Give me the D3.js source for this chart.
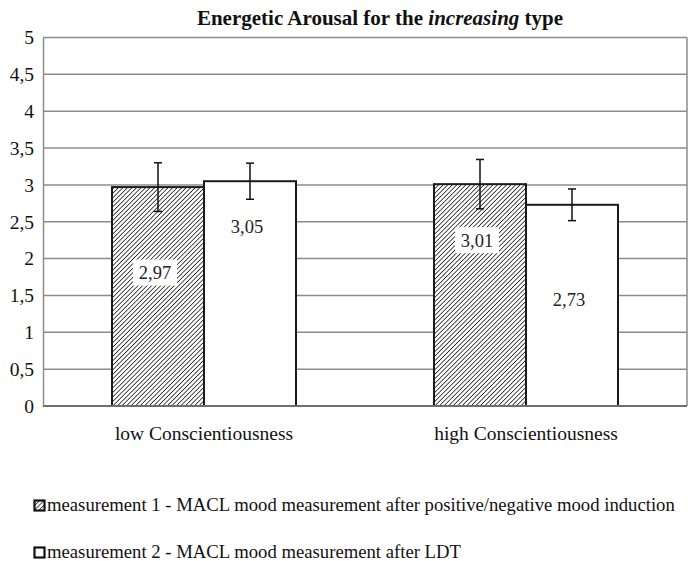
<!DOCTYPE html>
<html>
<head>
<meta charset="utf-8">
<script src="https://cdn.jsdelivr.net/npm/d3@7"></script>
<style>
  body { margin: 0; background: #fff; }
  svg text { font-family: "Liberation Serif", "Times New Roman", Times, Tinos, "DejaVu Serif", serif; }
</style>
</head>
<body>
<svg id="chart"></svg>
<script>
const w = 688;
const h = 561;

// data
const categories = ["low Conscientiousness", "high Conscientiousness"];
const series = ["m1", "m2"];
const seriesNames = [
  "measurement 1 - MACL mood measurement after positive/negative mood induction",
  "measurement 2 - MACL mood measurement after LDT"
];
const m1Values = [2.97, 3.01];
const m2Values = [3.05, 2.73];
const m1Errors = [0.33, 0.335];
const m2Errors = [0.245, 0.215];
const yTicks = [0, 0.5, 1, 1.5, 2, 2.5, 3, 3.5, 4, 4.5, 5];
// where excel put the value labels (in axis units)
const m1LabelAt = [1.81, 2.25];
const m2LabelAt = [2.43, 1.44];

const rows = categories.map((c, i) => ({
  cat: c,
  bars: [
    { key: "m1", value: m1Values[i], err: m1Errors[i], labelAt: m1LabelAt[i] },
    { key: "m2", value: m2Values[i], err: m2Errors[i], labelAt: m2LabelAt[i] }
  ]
}));

const plotL = 43, plotR = 687, plotT = 37.5, plotB = 406;

const svg = d3.select("#chart").attr("width", w).attr("height", h);

// hatch pattern
const defs = svg.append("defs");
const pat = defs.append("pattern")
  .attr("id", "hatch")
  .attr("patternUnits", "userSpaceOnUse")
  .attr("width", 3.2).attr("height", 3.2)
  .attr("patternTransform", "rotate(45)");
pat.append("rect").attr("width", 3.2).attr("height", 3.2).attr("fill", "#fff");
pat.append("line")
  .attr("x1", 0).attr("y1", 0).attr("x2", 0).attr("y2", 3.2)
  .attr("stroke", "#222").attr("stroke-width", 1.6);

const x0 = d3.scaleBand().domain(categories).range([plotL, plotR]);
const x1 = d3.scaleBand().domain(series).range([0, x0.bandwidth()]).paddingOuter(0.75);
const y = d3.scaleLinear().domain([0, 5]).range([plotB, plotT]);

// gridlines
svg.append("g")
  .selectAll("line")
  .data(yTicks.filter(t => t > 0))
  .enter()
  .append("line")
  .attr("x1", plotL).attr("x2", plotR)
  .attr("y1", d => y(d)).attr("y2", d => y(d))
  .attr("stroke", "#8c8c8c").attr("stroke-width", 1.5);

// right border of plot
svg.append("line")
  .attr("x1", plotR).attr("x2", plotR).attr("y1", plotT).attr("y2", plotB)
  .attr("stroke", "#8c8c8c").attr("stroke-width", 1.5);

// y axis
const yAxis = d3.axisLeft(y)
  .tickValues(yTicks)
  .tickSize(0)
  .tickPadding(9)
  .tickFormat(d => String(d).replace(".", ","));
const gy = svg.append("g")
  .attr("transform", `translate(${plotL},0)`)
  .call(yAxis)
  .attr("font-family", null);
gy.select(".domain").attr("stroke", "#8c8c8c").attr("stroke-width", 1.5);
gy.selectAll("text")
  .attr("font-size", 19.5)
  .attr("fill", "#111");

// bars
const groups = svg.append("g")
  .selectAll("g")
  .data(rows)
  .enter()
  .append("g")
  .attr("transform", d => `translate(${x0(d.cat)},0)`);

groups.selectAll("rect")
  .data(d => d.bars)
  .enter()
  .append("rect")
  .attr("x", d => x1(d.key))
  .attr("y", d => y(d.value))
  .attr("width", x1.bandwidth())
  .attr("height", d => y(0) - y(d.value))
  .attr("fill", d => d.key === "m1" ? "url(#hatch)" : "#fff")
  .attr("stroke", "#1a1a1a")
  .attr("stroke-width", 2);

// error bars
const eb = groups.selectAll("g.err")
  .data(d => d.bars)
  .enter()
  .append("g")
  .attr("class", "err")
  .attr("transform", d => `translate(${x1(d.key) + x1.bandwidth() / 2},0)`);
eb.append("line")
  .attr("x1", 0).attr("x2", 0)
  .attr("y1", d => y(d.value + d.err)).attr("y2", d => y(d.value - d.err))
  .attr("stroke", "#111").attr("stroke-width", 1.5);
eb.append("line")
  .attr("x1", -4).attr("x2", 4)
  .attr("y1", d => y(d.value + d.err)).attr("y2", d => y(d.value + d.err))
  .attr("stroke", "#111").attr("stroke-width", 1.5);
eb.append("line")
  .attr("x1", -4).attr("x2", 4)
  .attr("y1", d => y(d.value - d.err)).attr("y2", d => y(d.value - d.err))
  .attr("stroke", "#111").attr("stroke-width", 1.5);

// value labels
const lab = groups.selectAll("g.lab")
  .data(d => d.bars)
  .enter()
  .append("g")
  .attr("class", "lab")
  .attr("transform", d => `translate(${x1(d.key) + x1.bandwidth() / 2 - 3},${y(d.labelAt)})`);
lab.filter(d => d.key === "m1")
  .append("rect")
  .attr("x", -22).attr("y", -13).attr("width", 44).attr("height", 26)
  .attr("fill", "#fff");
lab.append("text")
  .attr("text-anchor", "middle")
  .attr("dy", "0.35em")
  .attr("font-size", 18.5)
  .attr("fill", "#222")
  .text(d => d.value.toFixed(2).replace(".", ","));

// baseline
svg.append("line")
  .attr("x1", plotL).attr("x2", plotR).attr("y1", y(0)).attr("y2", y(0))
  .attr("stroke", "#6e6e6e").attr("stroke-width", 2);

// x axis labels
svg.append("g")
  .selectAll("text")
  .data(categories)
  .enter()
  .append("text")
  .attr("x", d => x0(d) + x0.bandwidth() / 2)
  .attr("y", 440)
  .attr("text-anchor", "middle")
  .attr("font-size", 19.5)
  .attr("fill", "#111")
  .text(d => d);

// title
const title = svg.append("text")
  .attr("x", 380).attr("y", 25)
  .attr("text-anchor", "middle")
  .attr("font-size", 21)
  .attr("font-weight", "bold")
  .attr("fill", "#111");
title.append("tspan").text("Energetic Arousal for the ");
title.append("tspan").attr("font-style", "italic").text("increasing");
title.append("tspan").text(" type");

// legend
const leg = svg.append("g")
  .selectAll("g")
  .data(series)
  .enter()
  .append("g")
  .attr("transform", (d, i) => `translate(34,${505.5 + i * 47})`);
leg.append("rect")
  .attr("x", 0.5).attr("y", -5).attr("width", 10).attr("height", 10)
  .attr("fill", d => d === "m1" ? "url(#hatch)" : "#fff")
  .attr("stroke", "#111").attr("stroke-width", 2.2);
leg.append("text")
  .attr("x", 13).attr("y", 5)
  .attr("font-size", 18.7)
  .attr("fill", "#111")
  .text((d, i) => seriesNames[i]);
</script>
</body>
</html>
